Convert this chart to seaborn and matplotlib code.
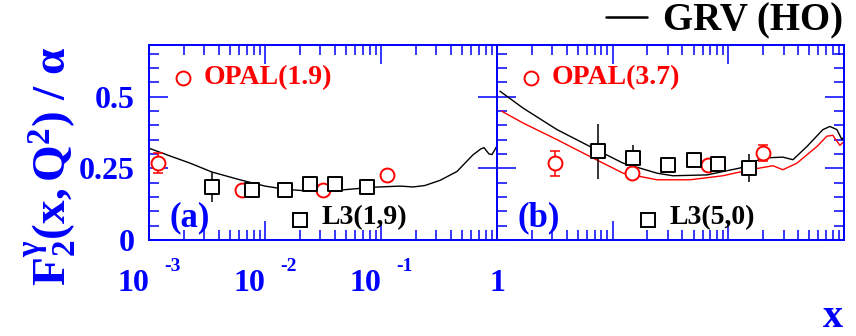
import matplotlib
matplotlib.use("Agg")
import matplotlib.pyplot as plt
import seaborn as sns
import numpy as np
import pandas as pd
from matplotlib.lines import Line2D
from matplotlib.ticker import FixedLocator, LogLocator, MultipleLocator, NullFormatter

# ---------------- data ----------------
# GRV (HO) prediction, panel (a), Q^2 = 1.9 GeV^2
grv_a_x = [0.00100, 0.00152, 0.00226, 0.00349, 0.00608, 0.0100, 0.0149, 0.0230,
           0.0444, 0.0853, 0.146, 0.189, 0.239, 0.323, 0.452, 0.621, 0.728,
           0.773, 0.853, 0.906, 1.0]
grv_a_y = [0.320, 0.293, 0.268, 0.237, 0.210, 0.188, 0.177, 0.171,
           0.174, 0.184, 0.188, 0.185, 0.190, 0.208, 0.239, 0.297, 0.318,
           0.322, 0.300, 0.298, 0.328]

# GRV (HO) prediction, panel (b): black at the L3 scale, red at the OPAL scale
grv_b_x = [0.00106, 0.00168, 0.00330, 0.00637, 0.0123, 0.0242, 0.0332, 0.0653,
           0.126, 0.199, 0.296, 0.362, 0.478, 0.657, 0.755, 0.868, 0.960, 1.0]
grv_b_y = [0.519, 0.460, 0.385, 0.326, 0.268, 0.233, 0.224, 0.227,
           0.251, 0.286, 0.289, 0.280, 0.326, 0.385, 0.396, 0.385, 0.350, 0.360]
grv_b_red_x = [0.00110, 0.00168, 0.00330, 0.00637, 0.0123, 0.0242, 0.0466, 0.0897,
               0.154, 0.243, 0.296, 0.392, 0.583, 0.711, 0.801, 0.922, 0.98]
grv_b_red_y = [0.449, 0.408, 0.350, 0.291, 0.233, 0.210, 0.210, 0.224,
               0.245, 0.259, 0.245, 0.268, 0.326, 0.362, 0.365, 0.330, 0.340]

# OPAL measurements
opal_a_x = [0.0012, 0.0063, 0.0318, 0.112]
opal_a_y = [0.268, 0.175, 0.175, 0.227]
opal_a_err = [0.035, 0.012, 0.012, 0.012]
opal_b_x = [0.00317, 0.0146, 0.067, 0.200]
opal_b_y = [0.268, 0.233, 0.262, 0.303]
opal_b_err = [0.044, 0.018, 0.015, 0.027]

# L3 measurements
l3_a_x = [0.00347, 0.00768, 0.0149, 0.0244, 0.0401, 0.0753]
l3_a_y = [0.186, 0.175, 0.175, 0.196, 0.196, 0.186]
l3_a_err = [0.052, 0.012, 0.010, 0.010, 0.010, 0.026]
l3_b_x = [0.0075, 0.0151, 0.0303, 0.0505, 0.081, 0.152]
l3_b_y = [0.309, 0.286, 0.262, 0.280, 0.266, 0.251]
l3_b_err = [0.096, 0.047, 0.015, 0.015, 0.015, 0.050]

x_major = [1e-3, 1e-2, 1e-1, 1.0]
x_major_labels = ["10", "10", "10", "1"]
x_exponents = ["-3", "-2", "-1", ""]
y_major = [0.0, 0.25, 0.5]
y_major_labels = ["0", "0.25", "0.5"]
panel_tags = ["(a)", "(b)"]
opal_tags = ["OPAL(1.9)", "OPAL(3.7)"]
l3_tags = ["L3(1,9)", "L3(5,0)"]

BLUE = "#0000ff"
RED = "#ff0000"

sns.set_theme(style="white")
plt.rcParams["font.family"] = ["Liberation Serif", "DejaVu Serif"]
plt.rcParams["text.color"] = "black"
plt.rcParams["mathtext.fontset"] = "custom"
plt.rcParams["mathtext.rm"] = "Liberation Serif"
plt.rcParams["mathtext.it"] = "Liberation Serif:italic"
plt.rcParams["mathtext.bf"] = "Liberation Serif:bold"

W, H = 856, 336
fig = plt.figure(figsize=(W / 100, H / 100), dpi=100)
fig.patch.set_facecolor("white")


def axes_px(x0, x1, y0, y1):
    return fig.add_axes([x0 / W, 1 - y1 / H, (x1 - x0) / W, (y1 - y0) / H])


ax_a = axes_px(149, 497, 45, 240)
ax_b = axes_px(497, 844, 45, 240)

for ax in (ax_a, ax_b):
    ax.set_facecolor("white")
    ax.set_xscale("log")
    ax.set_xlim(1e-3, 1.0)
    ax.set_ylim(0, 0.68)
    ax.xaxis.set_major_locator(FixedLocator(x_major))
    ax.xaxis.set_minor_locator(LogLocator(base=10, subs=np.arange(2, 10)))
    ax.xaxis.set_minor_formatter(NullFormatter())
    ax.yaxis.set_major_locator(FixedLocator(y_major))
    ax.yaxis.set_minor_locator(MultipleLocator(0.05))
    ax.tick_params(which="both", direction="in", top=True, bottom=True,
                   left=True, right=True, color=BLUE, width=1.1)
    ax.tick_params(which="major", length=14)
    ax.tick_params(which="minor", length=7)
    for sp in ax.spines.values():
        sp.set_color(BLUE)
        sp.set_linewidth(1.4)
    ax.grid(False)


def draw_points(ax, x, y, err, color, marker, size, capsize):
    ax.errorbar(x, y, yerr=err, fmt="none", ecolor=color, elinewidth=1.1,
                capsize=capsize, capthick=1.1, zorder=3)
    sns.scatterplot(x=x, y=y, ax=ax, marker=marker, s=size, facecolor="white",
                    edgecolor=color, linewidth=1.4, zorder=4, legend=False)


# panel (a)
sns.lineplot(x=grv_a_x, y=grv_a_y, ax=ax_a, color="black", lw=1.0,
             sort=False, estimator=None, zorder=2)
draw_points(ax_a, opal_a_x, opal_a_y, opal_a_err, RED, "o", 100, 3.5)
draw_points(ax_a, l3_a_x, l3_a_y, l3_a_err, "black", "s", 90, 0)

# panel (b)
sns.lineplot(x=grv_b_x, y=grv_b_y, ax=ax_b, color="black", lw=1.0,
             sort=False, estimator=None, zorder=2)
sns.lineplot(x=grv_b_red_x, y=grv_b_red_y, ax=ax_b, color=RED, lw=1.0,
             sort=False, estimator=None, zorder=2)
draw_points(ax_b, opal_b_x, opal_b_y, opal_b_err, RED, "o", 100, 3.5)
draw_points(ax_b, l3_b_x, l3_b_y, l3_b_err, "black", "s", 90, 0)

for ax in (ax_a, ax_b):
    ax.set_xlim(1e-3, 1.0)
    ax.set_ylim(0, 0.68)
    ax.set_xlabel("")
    ax.set_ylabel("")

# in-panel keys and tags
for ax, tag, otag, ltag in zip((ax_a, ax_b), panel_tags, opal_tags, l3_tags):
    ax.plot([0.098], [0.831], transform=ax.transAxes, marker="o", ms=10,
            mfc="white", mec=RED, mew=1.4, ls="none", clip_on=False)
    ax.text(0.158, 0.835, otag, transform=ax.transAxes, color=RED,
            fontsize=20, fontweight="bold", va="center", ha="left")
    ax.plot([0.435], [0.103], transform=ax.transAxes, marker="s", ms=9.5,
            mfc="white", mec="black", mew=1.4, ls="none", clip_on=False)
    ax.text(0.497, 0.113, ltag, transform=ax.transAxes, color="black",
            fontsize=20, fontweight="bold", va="center", ha="left")
    ax.text(0.058, 0.113, tag, transform=ax.transAxes, color=BLUE,
            fontsize=25, fontweight="bold", va="center", ha="left")

# axis labels and tick labels
ax_a.tick_params(which="minor", right=False)
ax_b.tick_params(labelleft=False, labelbottom=False)

ax_a.set_yticklabels(y_major_labels)
ax_a.tick_params(axis="y", which="major", pad=10, labelsize=23, labelcolor=BLUE)
for lab in ax_a.get_yticklabels():
    lab.set_fontweight("bold")

ax_a.set_xticklabels(x_major_labels)
ax_a.tick_params(axis="x", which="major", pad=21, labelsize=23, labelcolor=BLUE)
for lab, txt in zip(ax_a.get_xticklabels(), x_major_labels):
    lab.set_fontweight("bold")
    if txt == "10":
        lab.set_horizontalalignment("right")

for xv, ex in zip(x_major, x_exponents):
    if ex:
        ax_a.annotate(ex, xy=(xv, 0), xycoords=("data", "axes fraction"),
                      xytext=(17, -13), textcoords="offset points",
                      ha="center", va="top", fontsize=14, fontweight="bold",
                      color=BLUE, annotation_clip=False)

ax_a.set_ylabel(r"$\mathbf{F_2^{\gamma}(x,Q^2)\ /\ \alpha}$", fontsize=34,
                color=BLUE)
ax_a.yaxis.set_label_coords(-0.282, 0.379)
ax_a.yaxis.label.set_va("center")

ax_b.set_xlabel("x", fontsize=29, fontweight="bold", color=BLUE)
ax_b.xaxis.set_label_coords(0.967, -0.447)
ax_b.xaxis.label.set_va("baseline")

# curve key above the right panel
fig.legend(handles=[Line2D([], [], color="black", lw=1.8)], labels=["GRV (HO)"],
           loc="center right", bbox_to_anchor=(843 / W, 1 - 21 / H),
           frameon=False, handlelength=1.05, handletextpad=0.42,
           borderpad=0, borderaxespad=0, labelcolor="black",
           prop={"weight": "bold", "size": 28})

fig.savefig("out.png", dpi=100, facecolor="white")
